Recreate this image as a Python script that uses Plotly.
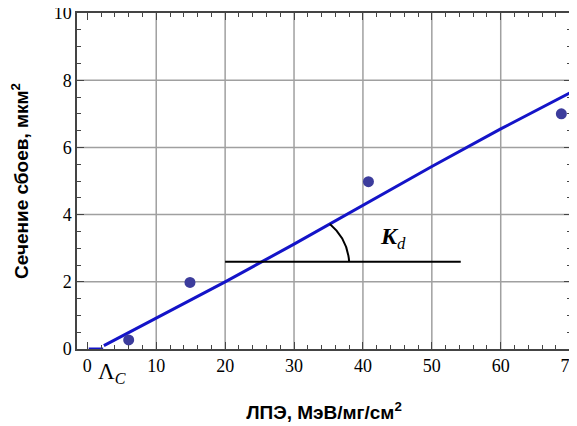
import plotly.graph_objects as go

# Data
let_points = [6.0, 14.9, 40.8, 68.8]
sigma_points = [0.27, 1.98, 4.98, 7.0]

curve_x = [0.2, 2.3, None, 2.4, 10, 20, 30, 40, 50, 60, 70]
curve_y = [0.0, 0.0, None, 0.1, 0.93, 2.0, 3.12, 4.27, 5.43, 6.55, 7.62]

x_ticks = [0, 10, 20, 30, 40, 50, 60, 70]
y_ticks = [0, 2, 4, 6, 8, 10]
x_grid = [10, 20, 30, 40, 50, 60]
y_grid = [2, 4, 6, 8]

# Kd construction line
kd_line_x = [20, 54.2]
kd_line_y = [2.6, 2.6]

fig = go.Figure()

fig.add_trace(go.Scatter(x=curve_x, y=curve_y, mode="lines",
                         line=dict(color="#1414c8", width=3), showlegend=False,
                         hoverinfo="skip"))
fig.add_trace(go.Scatter(x=kd_line_x, y=kd_line_y, mode="lines",
                         line=dict(color="black", width=2), showlegend=False))
fig.add_trace(go.Scatter(x=let_points, y=sigma_points, mode="markers",
                         marker=dict(color="#3c3c9c", size=11), showlegend=False))

shapes = []
for gx in x_grid:
    shapes.append(dict(type="line", xref="x", yref="y", x0=gx, x1=gx, y0=0, y1=10,
                       line=dict(color="#a0a0a0", width=1.5), layer="below"))
for gy in y_grid:
    shapes.append(dict(type="line", xref="x", yref="y", x0=-1.5, x1=70.2, y0=gy, y1=gy,
                       line=dict(color="#a0a0a0", width=1.5), layer="below"))
# angle arc
shapes.append(dict(type="path", xref="x", yref="y",
                   path="M 35.2,3.72 Q 37.75,3.28 38.0,2.6",
                   line=dict(color="black", width=2)))
fig.update_layout(shapes=shapes)

fig.add_annotation(x=44.3, y=3.3, xref="x", yref="y", showarrow=False,
                   text="<b><i>K</i></b><sub><i>d</i></sub>",
                   font=dict(family="Liberation Serif", size=24, color="black"))
fig.add_annotation(x=3.6, y=-0.07, xref="x", yref="paper", showarrow=False,
                   yanchor="middle", xanchor="center",
                   text="Λ<sub><i>C</i></sub>",
                   font=dict(family="Liberation Serif", size=23, color="black"))

axis_common = dict(showline=True, linecolor="#444444", linewidth=1.5, mirror="ticks",
                   ticks="inside", ticklen=7, tickwidth=1.3, tickcolor="#444444",
                   showgrid=False, zeroline=False, automargin=False,
                   ticklabeloverflow="allow",
                   tickfont=dict(family="Liberation Serif", size=18, color="black"))

fig.update_xaxes(range=[-1.5, 70.2], tickvals=x_ticks,
                 minor=dict(ticks="inside", dtick=2, tick0=0, ticklen=4, tickcolor="#444444"),
                 title=dict(text="<b>ЛПЭ, МэВ/мг/см<sup>2</sup></b>", standoff=30,
                            font=dict(family="Arial", size=19, color="black")),
                 **axis_common)
fig.update_yaxes(range=[0, 10], tickvals=y_ticks,
                 minor=dict(ticks="inside", dtick=0.5, tick0=0, ticklen=4, tickcolor="#444444"),
                 title=dict(text="<b>Сечение сбоев, мкм<sup>2</sup></b>", standoff=34,
                            font=dict(family="Arial", size=19, color="black")),
                 **axis_common)

# page body has an 8px margin: size and margins compensate for it
fig.update_layout(width=569, height=418, margin=dict(l=69, r=6, t=5, b=77),
                  plot_bgcolor="white", paper_bgcolor="white")

fig.write_html("out.html")
